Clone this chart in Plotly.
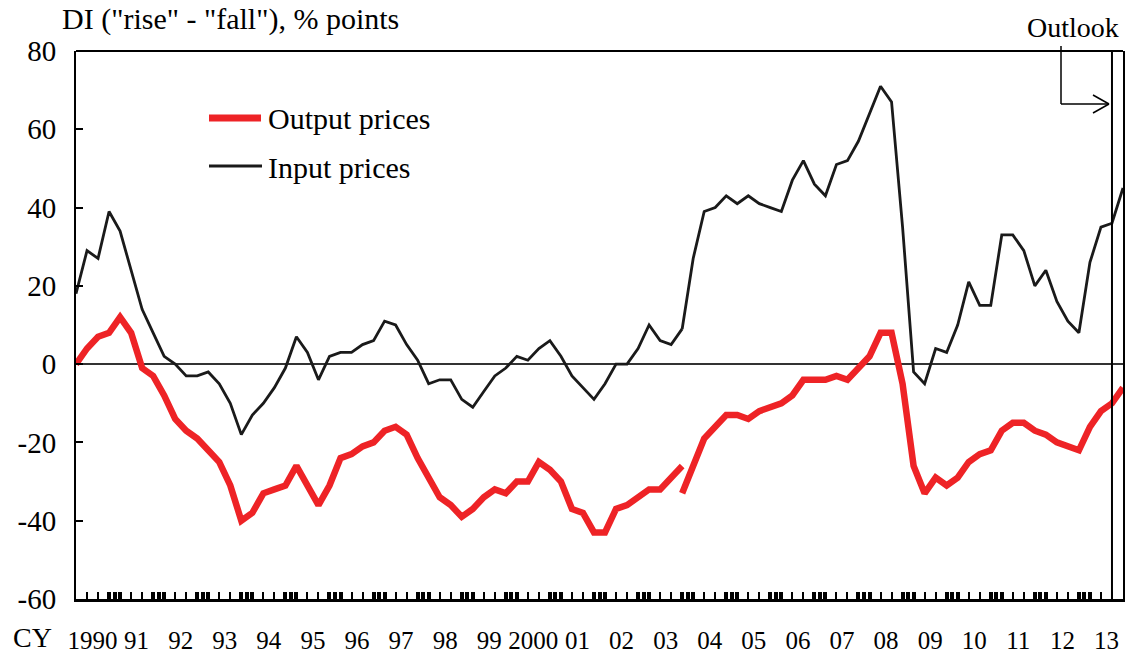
import plotly.graph_objects as go

# ---------------- data ----------------
quarters = [f"{y}Q{q}" for y in range(1990, 2014) for q in range(1, 5)]

# old survey basis: 1990Q1 - 2003Q4
old_quarters = quarters[:quarters.index("2003Q4") + 1]
# new survey basis: 2003Q4 - 2013Q4 (2013Q4 = outlook)
new_quarters = quarters[quarters.index("2003Q4"):]

output_old = [0, 4, 7, 8, 12, 8, -1, -3, -8, -14, -17, -19, -22, -25, -31, -40,
              -38, -33, -32, -31, -26, -31, -36, -31, -24, -23, -21, -20, -17, -16, -18, -24,
              -29, -34, -36, -39, -37, -34, -32, -33, -30, -30, -25, -27, -30, -37, -38, -43,
              -43, -37, -36, -34, -32, -32, -29, -26]
output_new = [-33, -26, -19, -16, -13, -13, -14, -12, -11, -10, -8, -4, -4, -4, -3, -4,
              -1, 2, 8, 8, -5, -26, -33, -29, -31, -29, -25, -23, -22, -17, -15, -15,
              -17, -18, -20, -21, -22, -16, -12, -10, -6]
input_old = [18, 29, 27, 39, 34, 24, 14, 8, 2, 0, -3, -3, -2, -5, -10, -18,
             -13, -10, -6, -1, 7, 3, -4, 2, 3, 3, 5, 6, 11, 10, 5, 1,
             -5, -4, -4, -9, -11, -7, -3, -1, 2, 1, 4, 6, 2, -3, -6, -9,
             -5, 0, 0, 4, 10, 6, 5, 9]
input_new = [9, 27, 39, 40, 43, 41, 43, 41, 40, 39, 47, 52, 46, 43, 51, 52,
             57, 64, 71, 67, 35, -2, -5, 4, 3, 10, 21, 15, 15, 33, 33, 29,
             20, 24, 16, 11, 8, 26, 35, 36, 45]

year_labels = ["1990", "91", "92", "93", "94", "95", "96", "97", "98", "99", "2000",
               "01", "02", "03", "04", "05", "06", "07", "08", "09", "10", "11", "12", "13"]
y_ticks = [80, 60, 40, 20, 0, -20, -40, -60]
y_tick_text = ["80", "60", "40", "20", "0", "-20", "-40", "-60"]
outlook_quarter = "2013Q3"

# ---------------- helpers ----------------
qidx = {q: i for i, q in enumerate(quarters)}
x_old = [qidx[q] for q in old_quarters]
x_new = [qidx[q] for q in new_quarters]
n = len(quarters)

W, H = 1129, 659
L, R, T, B = 76, 1123, 51, 599


def px(xp):
    return (xp - L) / (R - L)


def py(yp):
    return (B - yp) / (B - T)


RED = "#EE2326"
BLK = "#1A1A1A"
FONT = "Liberation Serif"

fig = go.Figure()
fig.add_trace(go.Scatter(x=x_old, y=output_old, mode="lines", name="Output prices",
                         line=dict(color=RED, width=6.5), showlegend=False))
fig.add_trace(go.Scatter(x=x_new, y=output_new, mode="lines", name="Output prices",
                         line=dict(color=RED, width=6.5), showlegend=False))
fig.add_trace(go.Scatter(x=x_old, y=input_old, mode="lines", name="Input prices",
                         line=dict(color=BLK, width=2.8), showlegend=False))
fig.add_trace(go.Scatter(x=x_new, y=input_new, mode="lines", name="Input prices",
                         line=dict(color=BLK, width=2.8), showlegend=False))
# invisible trace to carry the secondary (tick-only) x axis
fig.add_trace(go.Scatter(x=[0, n - 1], y=[None, None], xaxis="x2", mode="lines",
                         showlegend=False, hoverinfo="skip"))

year_centers = [4 * k + 1.5 for k in range(len(year_labels))]
thin_ticks = [i for i in range(n) if i % 4 in (1, 2)]
thick_ticks = []
for k in range(len(year_labels) + 1):
    for v in (4 * k - 1, 4 * k - 0.5, 4 * k):
        if 0 <= v <= n - 1:
            thick_ticks.append(v)

fig.update_layout(
    width=W, height=H,
    margin=dict(l=L, r=W - R, t=T, b=H - B, pad=0, autoexpand=False),
    paper_bgcolor="white", plot_bgcolor="white",
    font=dict(family=FONT, color="black", size=26),
    xaxis=dict(range=[0, n - 1], tickmode="array", tickvals=year_centers, ticktext=year_labels,
               ticks="", showgrid=False, zeroline=False, showline=True, linecolor="black",
               linewidth=3, tickfont=dict(size=25, family=FONT), ticklabelstandoff=17,
               automargin=False,
               minor=dict(tickmode="array", tickvals=thin_ticks, ticks="inside", ticklen=7,
                          tickwidth=1.5, tickcolor="black", showgrid=False)),
    xaxis2=dict(range=[0, n - 1], overlaying="x", anchor="y", side="bottom", matches="x",
                tickmode="array", tickvals=thick_ticks, ticks="inside", ticklen=7,
                tickwidth=4, tickcolor="black", showticklabels=False, showgrid=False,
                zeroline=False, showline=False, automargin=False),
    yaxis=dict(range=[-60, 80], tickmode="array", tickvals=y_ticks, ticktext=y_tick_text,
               ticks="inside", ticklen=7, tickwidth=2, tickcolor="black", showgrid=False,
               showline=True, linecolor="black", linewidth=2, mirror=True,
               zeroline=True, zerolinecolor="#333333", zerolinewidth=1.5,
               tickfont=dict(size=29, family=FONT), ticklabelstandoff=12, automargin=False),
)

shapes = [
    # top border
    dict(type="line", xref="paper", yref="paper", x0=0, x1=1, y0=1, y1=1,
         line=dict(color="black", width=2)),
    # outlook divider
    dict(type="line", xref="x", yref="paper", x0=qidx[outlook_quarter], x1=qidx[outlook_quarter],
         y0=0, y1=1, line=dict(color="black", width=2)),
    # outlook arrow
    dict(type="line", xref="paper", yref="paper", x0=px(1061), x1=px(1061), y0=py(46), y1=py(104),
         line=dict(color="black", width=1.5)),
    dict(type="line", xref="paper", yref="paper", x0=px(1061), x1=px(1109), y0=py(104), y1=py(104),
         line=dict(color="black", width=1.5)),
    dict(type="line", xref="paper", yref="paper", x0=px(1093), x1=px(1109), y0=py(95), y1=py(104),
         line=dict(color="black", width=1.5)),
    dict(type="line", xref="paper", yref="paper", x0=px(1093), x1=px(1109), y0=py(113), y1=py(104),
         line=dict(color="black", width=1.5)),
    # legend samples
    dict(type="line", xref="paper", yref="paper", x0=px(209), x1=px(261), y0=py(118), y1=py(118),
         line=dict(color=RED, width=7)),
    dict(type="line", xref="paper", yref="paper", x0=px(209), x1=px(262), y0=py(166), y1=py(166),
         line=dict(color=BLK, width=2.8)),
]
fig.update_layout(shapes=shapes)

annotations = [
    dict(text="Output prices", x=px(266), y=py(119), xref="paper", yref="paper",
         xanchor="left", yanchor="middle", showarrow=False, font=dict(size=30, family=FONT)),
    dict(text="Input prices", x=px(266), y=py(167), xref="paper", yref="paper",
         xanchor="left", yanchor="middle", showarrow=False, font=dict(size=30, family=FONT)),
    dict(text='DI ("rise" - "fall"), % points', x=px(60), y=py(19), xref="paper", yref="paper",
         xanchor="left", yanchor="middle", showarrow=False, font=dict(size=30, family=FONT)),
    dict(text="Outlook", x=px(1121), y=py(27), xref="paper", yref="paper",
         xanchor="right", yanchor="middle", showarrow=False, font=dict(size=28, family=FONT)),
    dict(text="CY", x=px(11), y=py(637), xref="paper", yref="paper",
         xanchor="left", yanchor="middle", showarrow=False, font=dict(size=28, family=FONT)),
]
fig.update_layout(annotations=annotations)

fig.write_html("out.html", config={"displayModeBar": False},
               post_script="document.body.style.margin='0px';")
